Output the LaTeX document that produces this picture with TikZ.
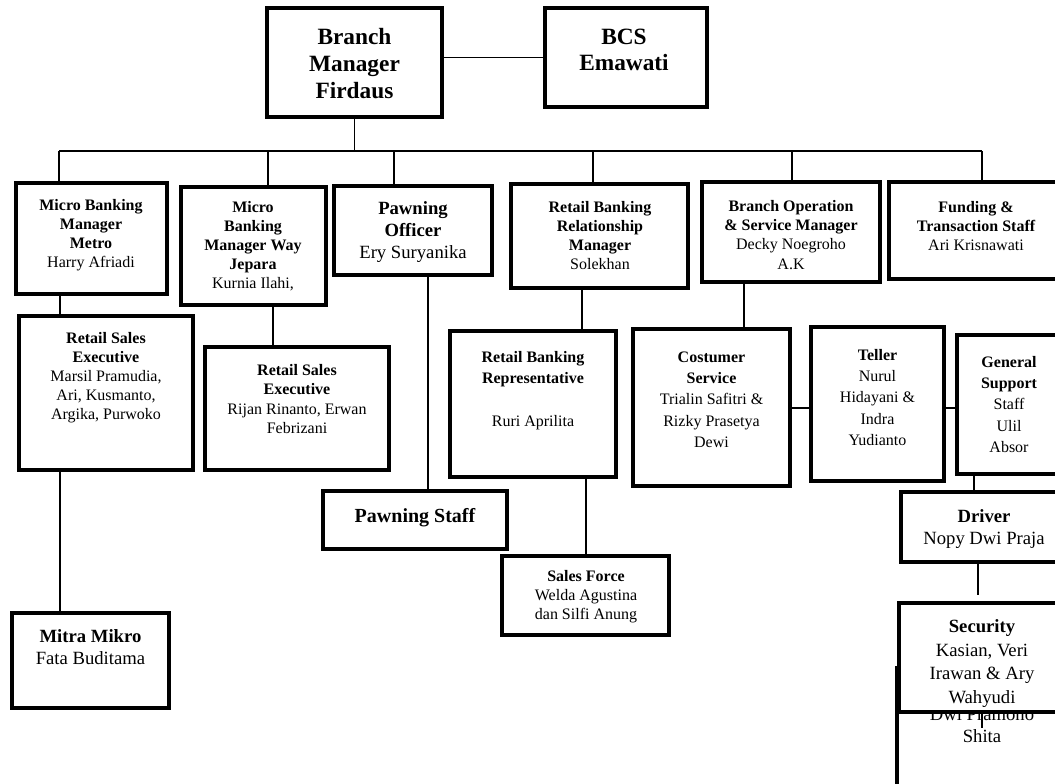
\documentclass[tikz,border=0pt]{standalone}
\usepackage{fontspec}
\setmainfont{Liberation Serif}

\newcommand\fntA{\fontsize{12}{14.3}\selectfont}
\newcommand\fntB{\fontsize{12}{16}\selectfont}
\newcommand\fntC{\fontsize{14}{16.5}\selectfont}
\newcommand\fntD{\fontsize{15}{18}\selectfont}
\newcommand\fntE{\fontsize{17.5}{20}\selectfont}
\newcommand\fntF{\fontsize{14}{17.6}\selectfont}

\begin{document}
\begin{tikzpicture}[x=0.75pt,y=-0.75pt,
	box/.style={draw,line width=2.8pt,fill=white,inner sep=0pt},
	txt/.style={align=center,inner sep=0pt},
	link/.style={line width=1.2pt}]
	\useasboundingbox (0,0) rectangle (1055,783);
	\clip (0,0) rectangle (1055,783);
	\node[box,minimum width=129.75pt,minimum height=99pt] (dwi) at (983.5,734) {};
	\node[txt,font=\fntC] (t-dwi) at (982,725.5) {Dwi Pramono\\Shita};
	\foreach \nm/\xa/\ya/\xb/\yb in {
			bm/267/8/442/117, bcs/545/8/707/107,
			mbm/16/183/167/294, mbj/181/187/326/305,
			po/334/186/492/275, rbrm/511/184/688/288,
			bosm/702/182/880/282, fund/889/182/1063/279,
			rse1/19/316/193/470, rse2/205/347/389/470,
			rbr/450/331/616/477, cs/633/329/790/486,
			tel/811/327/944/481, gs/957/335/1061/474,
			ps/323/491/507/549, mm/12/613/169/708,
			sf/502/556/669/635, drv/901/492/1067/562,
			sec/899/603/1065/712
			} {
		\node[box,minimum width={(\xb-\xa)*0.75pt},minimum height={(\yb-\ya)*0.75pt}]
			(\nm) at ({(\xa+\xb)/2},{(\ya+\yb)/2}) {};
	};
	\node[txt,font=\fntE\bfseries] (t-bm) at (354.5,63.5) {Branch\\Manager\\Firdaus};
	\node[txt,font=\fntE\bfseries] (t-bcs) at (624,50) {BCS\\Emawati};
	\node[txt,font=\fntA\bfseries] (t-mbm) at (91,235) {Micro Banking\\Manager\\Metro\\\mdseries Harry Afriadi};
	\node[txt,font=\fntA\bfseries] (t-mbj) at (253,246.5) {Micro\\Banking\\Manager Way\\Jepara\\\mdseries Kurnia Ilahi,};
	\node[txt,font=\fntC\bfseries] (t-po) at (413,232) {Pawning\\Officer\\\mdseries Ery Suryanika};
	\node[txt,font=\fntA\bfseries] (t-rbrm) at (600,235.5) {Retail Banking\\Relationship\\Manager\\\mdseries Solekhan};
	\node[txt,font=\fntA\bfseries] (t-bosm) at (791,235) {Branch Operation\\\& Service Manager\\\mdseries Decky Noegroho\\\mdseries A.K};
	\node[txt,font=\fntA\bfseries] (t-fund) at (976,226) {Funding \&\\Transaction Staff\\\mdseries Ari Krisnawati};
	\node[txt,font=\fntA\bfseries] (t-rse1) at (106,377.5) {Retail Sales\\Executive\\\mdseries Marsil Pramudia,\\\mdseries Ari, Kusmanto,\\\mdseries Argika, Purwoko};
	\node[txt,font=\fntA\bfseries] (t-rse2) at (297,399) {Retail Sales\\Executive\\\mdseries Rijan Rinanto, Erwan\\\mdseries Febrizani};
	\node[txt,font=\fntB\bfseries] (t-rbr) at (533,390.5) {Retail Banking\\Representative\\[16pt]\mdseries Ruri Aprilita};
	\node[txt,font=\fntB\bfseries] (t-cs) at (711.5,399.5) {Costumer\\Service\\\mdseries Trialin Safitri \&\\\mdseries Rizky Prasetya\\\mdseries Dewi};
	\node[txt,font=\fntB\bfseries] (t-tel) at (877.5,397.5) {Teller\\\mdseries Nurul\\\mdseries Hidayani \&\\\mdseries Indra\\\mdseries Yudianto};
	\node[txt,font=\fntB\bfseries] (t-gs) at (1009,404.5) {General\\Support\\\mdseries Staff\\\mdseries Ulil\\\mdseries Absor};
	\node[txt,font=\fntD\bfseries] (t-ps) at (415,518) {Pawning Staff};
	\node[txt,font=\fntC\bfseries] (t-mm) at (90.5,647.5) {Mitra Mikro\\\mdseries Fata Buditama};
	\node[txt,font=\fntA\bfseries] (t-sf) at (586,597) {Sales Force\\\mdseries Welda Agustina\\\mdseries dan Silfi Anung};
	\node[txt,font=\fntC\bfseries] (t-drv) at (984,529) {Driver\\\mdseries Nopy Dwi Praja};
	\node[txt,font=\fntF\bfseries] (t-sec) at (982,663.5) {Security\\\mdseries Kasian, Veri\\\mdseries Irawan \& Ary\\\mdseries Wahyudi};

	\draw[link] (bcs.west) -- (bcs.west -| bm.east);
	\coordinate (busL) at (59,151);
	\coordinate (busR) at (982,151);
	\draw[link] (bm.south) -- (bm.south |- busL);
	\draw[link] (busL) -- (busR);
	\foreach \c/\x in {mbm/59, mbj/268, po/394, rbrm/593, bosm/792, fund/982} {
		\coordinate (d-\c) at (\x,151);
		\draw[link] (d-\c) -- (d-\c |- \c.north);
	};
	\foreach \a/\b/\x in {mbm/rse1/60, rse1/mm/60, mbj/rse2/273, po/ps/428,
			rbrm/rbr/582, rbr/sf/586, bosm/cs/744, gs/drv/974} {
		\coordinate (v-\a) at (\x,0);
		\draw[link] (v-\a |- \a.south) -- (v-\a |- \b.north);
	};
	\coordinate (row) at (0,408);
	\draw[link] (cs.east |- row) -- (tel.west |- row);
	\draw[link] (tel.east |- row) -- (gs.west |- row);
	\coordinate (drvend) at (978,595);
	\draw[link] (drvend |- drv.south) -- (drvend);
	\coordinate (tick) at (982,728);
	\draw[link] (tick |- sec.south) -- (tick);
\end{tikzpicture}
\end{document}
